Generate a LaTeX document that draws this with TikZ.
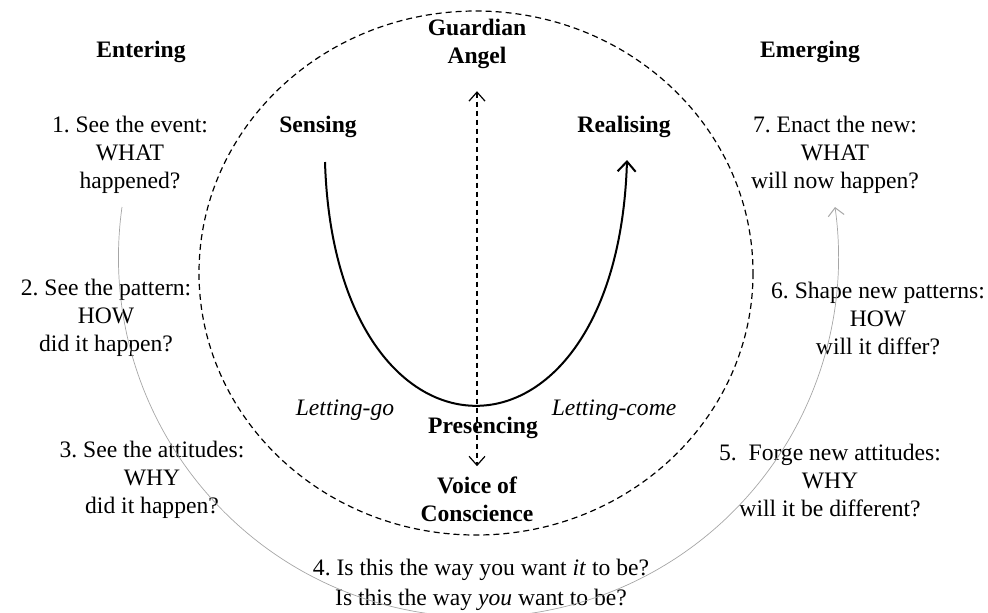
\documentclass[tikz,border=0pt]{standalone}
\usepackage{fontspec}
\setmainfont{Liberation Serif}
\usetikzlibrary{arrows.meta}
\frenchspacing

\begin{document}
\begin{tikzpicture}[x=0.5pt,y=-0.5pt,
    txt/.style={inner sep=0pt,align=center,font=\fontsize{11.8}{14}\selectfont},
    head/.style={txt,font=\fontsize{11.8}{14}\selectfont\bfseries},
    slant/.style={txt,font=\fontsize{11.8}{14}\selectfont\itshape},
    cycle/.style={draw=gray!70,line width=0.35pt,-{Straight Barb[length=4pt,width=8pt,line width=0.5pt]}}]
    \useasboundingbox (0,0) rectangle (988,612);
    % outer field of the U
    \draw[dash pattern=on 3pt off 2pt,line width=0.6pt] (476,273) ellipse [x radius=277, y radius=262];
    % headings
    \node[head] (entering) at (141,52) {Entering};
    \node[head] (emerging) at (810,52) {Emerging};
    \node[head] (angel) at (477,44) {Guardian\\Angel};
    \node[head] (sensing) at (318,127) {Sensing};
    \node[head] (realising) at (624,127) {Realising};
    \node[head] (presencing) at (483,428) {Presencing};
    \node[head] (voice) at (477,499) {Voice of\\Conscience};
    \node[slant] (lettinggo) at (345,410) {Letting-go};
    \node[slant] (lettingcome) at (614,410) {Letting-come};
    % the seven steps
    \node[txt] (see1) at (130,155) {1. See the event:\\WHAT\\happened?};
    \node[txt] (see2) at (106,318) {2. See the pattern:\\HOW\\did it happen?};
    \node[txt] (see3) at (152,480) {3. See the attitudes:\\WHY\\did it happen?};
    \node[txt,font=\fontsize{11.8}{15}\selectfont] (ask4) at (481,585) {4. Is this the way you want \textit{it} to be?\\Is this the way \textit{you} want to be?};
    \node[txt] (forge5) at (830,480) {5.\ \ Forge new attitudes:\\WHY\\will it be different?};
    \node[txt] (shape6) at (878,318) {6. Shape new patterns:\\HOW\\will it differ?};
    \node[txt] (enact7) at (835,155) {7. Enact the new:\\WHAT\\will now happen?};
    % the U
    \coordinate (ustart) at (325,162);
    \coordinate (uend) at (627,160);
    \draw[line width=1pt,-{Straight Barb[length=5pt,width=9pt]}] (ustart) .. controls (335,487) and (617,487) .. (uend);
    \draw[dash pattern=on 2.5pt off 2pt,line width=0.6pt,{Straight Barb[length=4.5pt,width=8pt]}-{Straight Barb[length=4.5pt,width=8pt]}]
        ([yshift=-11pt]angel.south) -- ([yshift=5pt]voice.north);
    % the cycle round the outside
    \coordinate (cyclestart) at (122,207);
    \draw[cycle] (cyclestart) arc [start angle=188, end angle=-8, radius=360];
\end{tikzpicture}
\end{document}
